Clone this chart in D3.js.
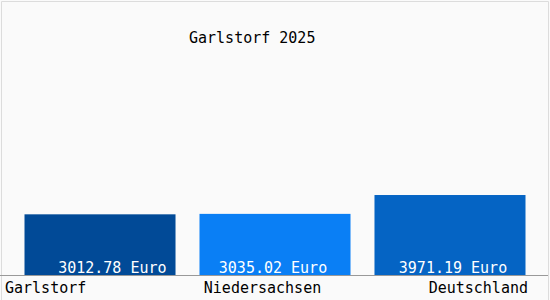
<!DOCTYPE html>
<html><head><meta charset="utf-8">
<script src="https://cdn.jsdelivr.net/npm/d3@7"></script>
<style>
html,body{margin:0;padding:0;background:#fff;}
svg{display:block;}
text{font-family:"DejaVu Sans Mono",monospace;}
</style></head>
<body>
<svg id="c" width="550" height="300"></svg>
<script>
const title = "Garlstorf 2025";
const categories = ["Garlstorf", "Niedersachsen", "Deutschland"];
const values = [3012.78, 3035.02, 3971.19];
const valueLabels = ["3012.78 Euro", "3035.02 Euro", "3971.19 Euro"];
const colors = ["#014a97", "#0a7ff5", "#0564c4"];

const svg = d3.select("#c");
const W = 550, H = 300, base = 275;

svg.append("rect").attr("x",0).attr("y",0).attr("width",W).attr("height",H).attr("fill","#fafafa");
svg.append("path").attr("d","M1.5,300 V1.5 H548.5 V300").attr("fill","none").attr("stroke","#dcdcdc").attr("stroke-width",1);

const x = d3.scaleBand().domain(categories).range([0, 550]).paddingInner(0.137).paddingOuter(0.14);
const y = d3.scaleLinear().domain([0, 5000]).range([base, base - 100.7]);

svg.append("text").attr("x",189).attr("y",43).attr("font-size",15).attr("fill","#000").text(title);

const anchors = ["end","middle","middle"];
const offs = [-9, -2, 3];

categories.forEach((c,i)=>{
  svg.append("rect").attr("x",x(c)).attr("y",y(values[i])).attr("width",x.bandwidth()).attr("height",base - y(values[i])).attr("fill",colors[i]);
  const tx = anchors[i]==="end" ? x(c)+x.bandwidth()+offs[i] : x(c)+x.bandwidth()/2+offs[i];
  svg.append("text").attr("x",tx).attr("y",273).attr("text-anchor",anchors[i]).attr("font-size",15).attr("fill","#fff").text(valueLabels[i]);
});

svg.append("line").attr("x1",0).attr("x2",548).attr("y1",275.5).attr("y2",275.5).attr("stroke","#999").attr("stroke-width",1);

const xl = [["start",5],["middle",262.5],["end",528]];
categories.forEach((c,i)=>{
  svg.append("text").attr("x",xl[i][1]).attr("y",293).attr("text-anchor",xl[i][0]).attr("font-size",15).attr("fill","#000").text(c);
});
</script>
</body></html>
